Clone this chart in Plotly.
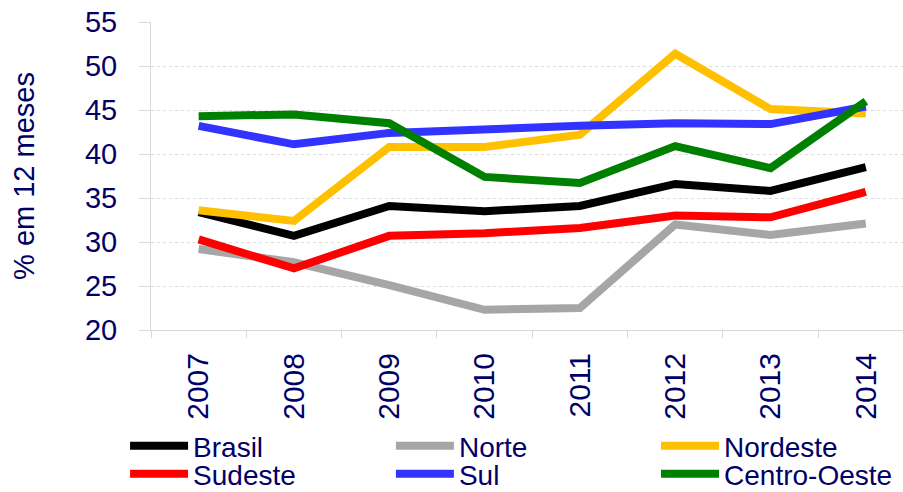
import plotly.graph_objects as go

years = ["2007", "2008", "2009", "2010", "2011", "2012", "2013", "2014"]

brasil = [33.4, 30.7, 34.1, 33.5, 34.1, 36.6, 35.8, 38.5]
norte = [29.2, 27.7, 25.1, 22.3, 22.5, 32.0, 30.8, 32.1]
nordeste = [33.6, 32.4, 40.8, 40.8, 42.2, 51.4, 45.1, 44.6]
sudeste = [30.3, 27.0, 30.7, 31.0, 31.6, 33.0, 32.8, 35.7]
sul = [43.2, 41.1, 42.4, 42.9, 43.2, 43.5, 43.4, 45.4]
centro_oeste = [44.3, 44.5, 43.5, 37.4, 36.7, 40.9, 38.4, 46.0]

series = [
    ("Brasil", brasil, "#000000"),
    ("Norte", norte, "#A6A6A6"),
    ("Nordeste", nordeste, "#FFC000"),
    ("Sudeste", sudeste, "#FF0000"),
    ("Sul", sul, "#3333FF"),
    ("Centro-Oeste", centro_oeste, "#008000"),
]

NAVY = "#000066"
FONT = "Liberation Sans, Arial, sans-serif"

# legend grid: 3 columns x 2 rows (container fractions)
legend_cols = [0.1385, 0.4329, 0.7265]
legend_rows = [0.0934, 0.0365]

fig = go.Figure()

legends = {}
for i, (name, values, color) in enumerate(series):
    key = "legend" if i == 0 else f"legend{i + 1}"
    fig.add_trace(
        go.Scatter(
            x=years,
            y=values,
            name=name,
            mode="lines",
            line=dict(color=color, width=8),
            legend=key,
        )
    )
    legends[key] = dict(
        orientation="h",
        xref="container",
        yref="container",
        x=legend_cols[i % 3],
        y=legend_rows[i // 3],
        xanchor="left",
        yanchor="middle",
        itemwidth=58,
        font=dict(family=FONT, size=28, color=NAVY),
        bgcolor="rgba(0,0,0,0)",
    )

fig.update_layout(
    width=903,
    height=492,
    margin=dict(l=151, r=0, t=22, b=162),
    plot_bgcolor="white",
    paper_bgcolor="white",
    font=dict(family=FONT, size=28, color=NAVY),
    showlegend=True,
    **legends,
)

fig.update_xaxes(
    type="category",
    range=[-0.5, 7.39],
    tickangle=-90,
    tickson="boundaries",
    ticks="outside",
    ticklen=7,
    tickcolor="#d9d9d9",
    ticklabelstandoff=10,
    showgrid=False,
    showline=True,
    linecolor="#d9d9d9",
    linewidth=1,
    automargin=False,
    tickfont=dict(family=FONT, size=30, color=NAVY),
)

fig.update_yaxes(
    range=[20, 55],
    dtick=5,
    ticks="outside",
    ticklen=11,
    tickcolor="#d9d9d9",
    ticklabelstandoff=16,
    showgrid=True,
    gridcolor="#dcdcdc",
    griddash="dot",
    gridwidth=1,
    showline=True,
    linecolor="#d9d9d9",
    linewidth=1,
    zeroline=False,
    automargin=False,
    tickfont=dict(family=FONT, size=29, color=NAVY),
    title=dict(
        text="% em 12 meses",
        standoff=41,
        font=dict(family=FONT, size=29, color=NAVY),
    ),
)

# page body has a default 8px margin; drop it so the figure sits at 0,0
fig.write_html(
    "out.html",
    config={"displayModeBar": False},
    post_script="document.body.style.margin='0';document.body.style.overflow='hidden';",
)
